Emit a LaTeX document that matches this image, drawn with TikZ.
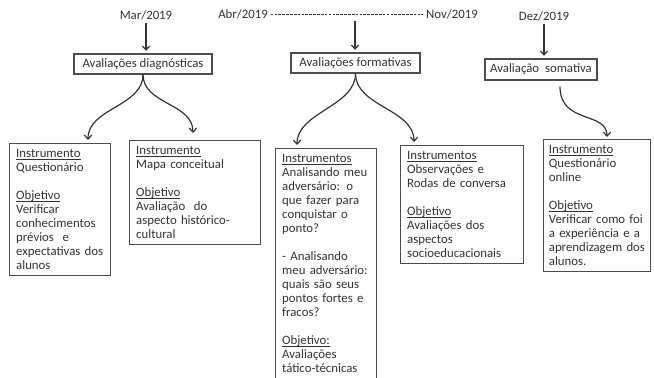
\documentclass[tikz,border=0pt]{standalone}
\usepackage{fontspec}
\setmainfont{Carlito}
\usetikzlibrary{arrows.meta,calc}
\definecolor{InkGray}{HTML}{333333}
\definecolor{LineGray}{HTML}{4D4D4D}
\newcommand{\ulabel}[1]{\underline{\smash{#1}}\vphantom{#1}}

\begin{document}
\begin{tikzpicture}[
    x=0.75pt, y=-0.75pt,
    txt/.style={font=\fontsize{9.6}{10.5}\selectfont,text=InkGray},
    date/.style={txt,inner sep=2pt},
    phase/.style={txt,draw=LineGray,line width=0.8pt,minimum height=15pt,inner sep=2pt},
    infobox/.style={txt,draw=LineGray,line width=0.8pt,anchor=north west,align=left,
      text width=#1,inner xsep=5pt,inner ysep=4.5pt},
    link/.style={->,line width=0.9pt,draw=InkGray,shorten >=2pt},
    branch/.style={->,line width=0.9pt,draw=InkGray},
    >={Straight Barb[length=3pt,width=5.5pt]},
  ]
  \useasboundingbox (0,0) rectangle (654,378);
  % Timeline
  \node[date] (mar) at (146,15) {Mar/2019};
  \node[date] (abr) at (243,14) {Abr/2019};
  \node[date] (nov) at (452,14) {Nov/2019};
  \node[date] (dez) at (544,16) {Dez/2019};
  \draw[InkGray,line width=0.6pt,dash pattern=on 2pt off 0.9pt] (abr) -- (nov);
  \coordinate (per) at (355,21);
  % Phases
  \node[phase,minimum width=103.5pt] (diag) at (143,64) {Avaliações diagnósticas};
  \node[phase,minimum width=96.75pt] (form) at (355.5,63) {Avaliações formativas};
  \node[phase,minimum width=84pt,minimum height=15.75pt] (som) at (541,69.5) {Avaliação\ \ somativa};
  \draw[link] (mar) -- (mar |- diag.north);
  \draw[link] (per) -- (per |- form.north);
  \draw[link] (dez) -- (dez |- som.north);
  % Diagnostic boxes
  \node[infobox=65.75pt] (b1) at (9,143) {\ulabel{Instrumento}\\Questionário\\[10.5pt]
    \ulabel{Objetivo}\\Verificar\\conhecimentos\\prévios\ \ e\\expectativas dos\\alunos};
  \node[infobox=88.25pt] (b2) at (129,140) {\ulabel{Instrumento}\\Mapa conceitual\\[10.5pt]
    \ulabel{Objetivo}\\Avaliação\ \ do\\aspecto histórico-\\cultural};
  \draw[branch] (diag.south) .. controls +(0,32) and +(0,-32) .. ($(b1.north west)+(79,-3)$);
  \draw[branch] (diag.south) .. controls +(0,30) and +(0,-30) .. ($(b2.north west)+(64,-7)$);
  % Formative boxes
  \node[infobox=65.75pt] (b3) at (275,148) {\ulabel{Instrumentos}\\Analisando meu\\adversário: o\\
    que fazer para\\conquistar o\\ponto?\\[10.5pt]- Analisando\\meu adversário:\\quais são seus\\
    pontos fortes e\\fracos?\\[10.5pt]\ulabel{Objetivo:}\\Avaliações\\tático-técnicas};
  \node[infobox=82.25pt] (b4) at (400,145) {\ulabel{Instrumentos}\\Observações e\\Rodas de conversa\\[10.5pt]
    \ulabel{Objetivo}\\Avaliações dos\\aspectos\\socioeducacionais};
  \draw[branch] (form.south) .. controls +(0,33) and +(0,-33) .. ($(b3.north west)+(22,-3)$);
  \draw[branch] (form.south) .. controls +(0,33) and +(0,-33) .. ($(b4.north west)+(14,-3)$);
  % Summative box
  \node[infobox=72.5pt,inner xsep=4pt] (b5) at (543,139) {\ulabel{Instrumento}\\Questionário\\online\\[10.5pt]
    \ulabel{Objetivo}\\Verificar como foi\\a experiência e a\\aprendizagem dos\\alunos.};
  \draw[branch] ($(som.south)+(19,6)$) .. controls +(0,38) and +(0,-26) .. ($(b5.north west)+(64,-2)$);
\end{tikzpicture}
\end{document}
